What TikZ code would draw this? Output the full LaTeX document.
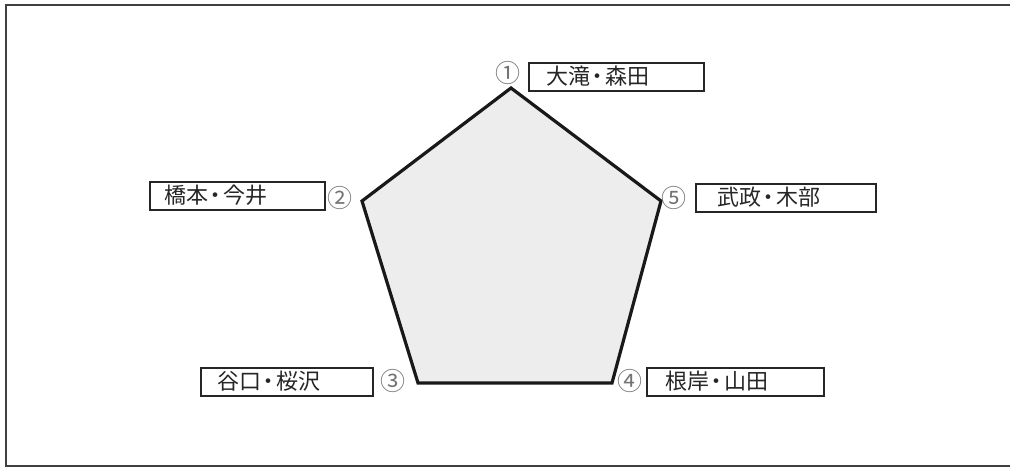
\documentclass[tikz,border=0pt]{standalone}
\usepackage{fontspec}
\setmainfont{Noto Sans CJK JP}
\newcommand{\ndot}{\kern-3.5pt・\kern-3.5pt}
\begin{document}
\begin{tikzpicture}[x=1pt,y=-1pt,
  namebox/.style={draw=black!85,line width=1.7pt,minimum height=28pt,inner sep=0pt,
    anchor=north west},
  nametext/.style={anchor=west,inner sep=0pt,font=\fontsize{22}{22}\selectfont,text=black!85},
  numlabel/.style={font=\fontsize{25}{25}\selectfont,text=black!55,inner sep=0pt},
  pent/.style={draw=black!90,line width=3.2pt,fill=black!7,line join=miter}]
\useasboundingbox (0,0) rectangle (1010,471);
\begin{scope}
\clip (0,0) rectangle (1010,471);
\draw[line width=1.6pt,draw=black!75] (6,5) rectangle (1020,466);
\end{scope}
% pentagon vertices
\coordinate (v1) at (511,88);
\coordinate (v2) at (362,201);
\coordinate (v3) at (418,383);
\coordinate (v4) at (612,383);
\coordinate (v5) at (661,201);
\draw[pent] (v1) -- (v2) -- (v3) -- (v4) -- (v5) -- cycle;
% number labels
\node[numlabel] (n1) at (508,73) {①};
\node[numlabel] (n2) at (340,198) {②};
\node[numlabel] (n3) at (393,381) {③};
\node[numlabel] (n4) at (630,381) {④};
\node[numlabel] (n5) at (674,198) {⑤};
% name boxes
\node[namebox,minimum width=175pt] (b1) at (528,62) {};
\node[nametext] (t1) at (546,76) {大滝\ndot 森田};
\node[namebox,minimum width=175pt] (b2) at (149,181) {};
\node[nametext] (t2) at (164,195.5) {橋本\ndot 今井};
\node[namebox,minimum width=180pt] (b5) at (695,183) {};
\node[nametext] (t5) at (717,197.5) {武政\ndot 木部};
\node[namebox,minimum width=172pt] (b3) at (200,367) {};
\node[nametext] (t3) at (217,381.5) {谷口\ndot 桜沢};
\node[namebox,minimum width=177pt] (b4) at (646,367) {};
\node[nametext] (t4) at (665,381.5) {根岸\ndot 山田};
\end{tikzpicture}
\end{document}
